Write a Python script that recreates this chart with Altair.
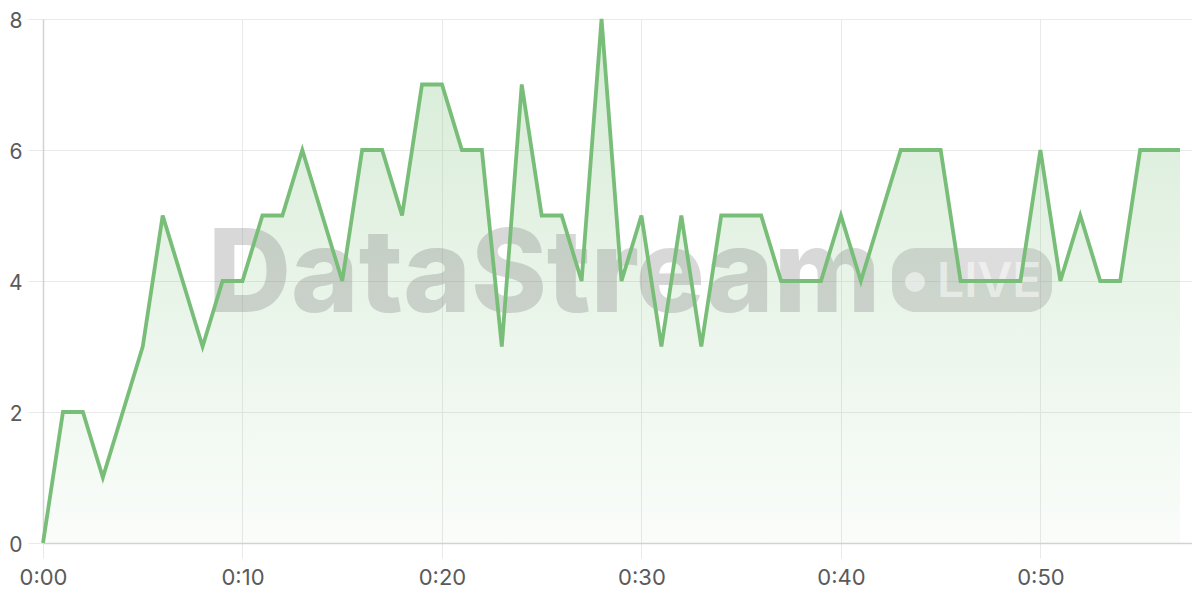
import altair as alt
import pandas as pd

# time index (seconds) and counts
seconds = list(range(58))
counts = [0, 2, 2, 1, 2, 3, 5, 4, 3, 4,
          4, 5, 5, 6, 5, 4, 6, 6, 5, 7,
          7, 6, 6, 3, 7, 5, 5, 4, 8, 4,
          5, 3, 5, 3, 5, 5, 5, 4, 4, 4,
          5, 4, 5, 6, 6, 6, 4, 4, 4, 4,
          6, 4, 5, 4, 4, 6, 6, 6]
x_ticks = [0, 10, 20, 30, 40, 50]
y_ticks = [0, 2, 4, 6, 8]
watermark_text = "DataStream"
badge_text = "LIVE"

df = pd.DataFrame({"t": seconds, "v": counts})
one = pd.DataFrame({"k": [0]})

FONT = "Inter"
LINE = "#78be78"
GRID = "#e9e9e9"
DOMAIN = "#d2d2d2"

x_enc = alt.X(
    "t:Q",
    scale=alt.Scale(domain=[0, 57.6], nice=False, zero=False),
    axis=alt.Axis(
        values=x_ticks,
        title=None,
        labelExpr="'0:' + (datum.value < 10 ? '0' : '') + datum.value",
        grid=True, gridColor=GRID, gridWidth=1,
        tickColor=GRID, tickSize=15, tickWidth=1,
        domainColor=DOMAIN, domainWidth=1.5,
        labelColor="#5a5a5a", labelFontSize=22, labelFont=FONT,
        labelPadding=9, labelFlush=False,
    ),
)
y_enc = alt.Y(
    "v:Q",
    scale=alt.Scale(domain=[0, 8], nice=False),
    axis=alt.Axis(
        values=y_ticks,
        title=None,
        labelExpr="format(datum.value, 'd')",
        grid=True, gridColor=GRID, gridWidth=1,
        tickColor=GRID, tickSize=15, tickWidth=1,
        domainColor=DOMAIN, domainWidth=1.5,
        labelColor="#5a5a5a", labelFontSize=21, labelFont=FONT,
        labelPadding=6, labelAlign="right", labelOffset=2,
    ),
)

area = alt.Chart(df).mark_area(
    color=alt.Gradient(
        gradient="linear",
        stops=[
            alt.GradientStop(color="rgba(120,190,120,0.04)", offset=0),
            alt.GradientStop(color="rgba(120,190,120,0.30)", offset=1),
        ],
        x1=1, x2=1, y1=1, y2=0,
    ),
    interpolate="linear",
).encode(x=x_enc, y=y_enc)

wm = alt.Chart(one).mark_text(
    text=watermark_text, font=FONT, fontSize=115, fontWeight=800,
    color="#808080", opacity=0.3, align="left", baseline="alphabetic",
).encode(x=alt.value(165), y=alt.value(293))

badge = alt.Chart(one).mark_rect(
    color="#808080", opacity=0.27, cornerRadius=24,
).encode(x=alt.value(849), x2=alt.value(1009), y=alt.value(229), y2=alt.value(293))

dot = alt.Chart(one).mark_circle(
    color="white", opacity=0.5, size=400,
).encode(x=alt.value(872), y=alt.value(263))

live = alt.Chart(one).mark_text(
    text=badge_text, font=FONT, fontSize=48, fontWeight=600,
    color="white", opacity=0.5, align="left", baseline="alphabetic",
).encode(x=alt.value(894), y=alt.value(278))

line = alt.Chart(df).mark_line(
    color=LINE, strokeWidth=3.8, interpolate="linear", strokeJoin="miter",
).encode(x="t:Q", y="v:Q")

chart = alt.layer(area, wm, badge, dot, live, line).properties(
    width=1149,
    height=524,
    autosize=alt.AutoSizeParams(type="none"),
    padding={"left": 35, "top": 11, "right": 0, "bottom": 45},
).configure_view(stroke=None).configure(background="white")

chart.save("out.html", embed_options={"renderer": "svg", "actions": False})
